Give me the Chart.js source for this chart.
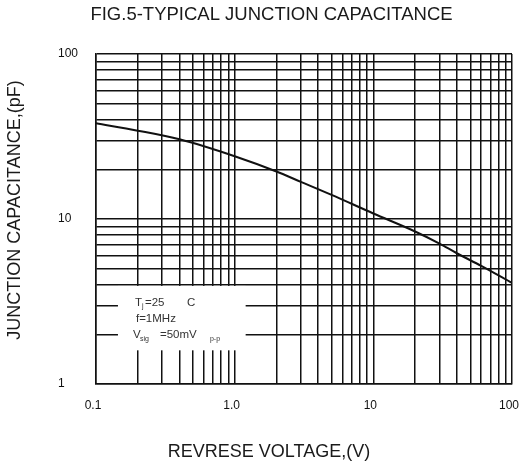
<!DOCTYPE html>
<html><head><meta charset="utf-8">
<script src="https://cdn.jsdelivr.net/npm/chart.js@4"></script>
<style>html,body{margin:0;padding:0;background:#fff}#wrap{width:519px;height:465px}</style>
</head><body><div id="wrap"><canvas id="c" width="519" height="465"></canvas></div>
<script>
const voltage = [0.1, 0.2, 0.4, 1, 2, 3, 5, 10, 20, 30, 40, 60, 100];
const capacitance = [38, 34.3, 30.4, 24, 19.4, 16.8, 14, 10.8, 8.4, 7.1, 6.2, 5.2, 4.1];

const xGridValues = [0.1,0.2,0.3,0.4,0.5,0.6,0.7,0.8,0.9,1,2,3,4,5,6,7,8,9,10,20,30,40,50,60,70,80,90,100];
const xLabelValues = [0.1, 1, 10, 100];
const xLabels = ['0.1', '1.0', '10', '100'];

const yGridValues = [1,2,3,4,5,6,7,8,9,10,20,30,40,50,60,70,80,90,100];
const yLabelValues = [1, 10, 100];
const yLabels = ['1', '10', '100'];

const noteBoxRange = { xFrom: 0.144, xTo: 1.2, yFrom: 3.93, yTo: 1.6 };

const FONT = "'Liberation Sans', Arial, Helvetica, sans-serif";
const INK = '#1a1a1a';

function lookup(values, labels, v) {
  const i = values.findIndex(a => Math.abs(a - v) / a < 1e-6);
  return i >= 0 ? labels[i] : '';
}

const noteBox = {
  id: 'noteBox',
  afterDatasetsDraw(chart) {
    const { ctx, scales: { x, y } } = chart;
    const l = x.getPixelForValue(noteBoxRange.xFrom);
    const r = x.getPixelForValue(noteBoxRange.xTo);
    const t = y.getPixelForValue(noteBoxRange.yFrom);
    const b = y.getPixelForValue(noteBoxRange.yTo);
    ctx.save();
    ctx.fillStyle = '#fff';
    ctx.fillRect(l, t, r - l, b - t);
    ctx.fillStyle = '#333';
    ctx.textBaseline = 'alphabetic';
    ctx.textAlign = 'left';
    const big = '11.5px ' + FONT, small = '7px ' + FONT;
    ctx.font = big; ctx.fillText('T', l + 17, t + 20);
    ctx.font = small; ctx.fillText('j', l + 24, t + 22);
    ctx.font = big; ctx.fillText('=25', l + 27, t + 20);
    ctx.fillText('C', l + 69, t + 20);
    ctx.fillText('f=1MHz', l + 18, t + 36);
    ctx.fillText('V', l + 15, t + 52);
    ctx.font = small; ctx.fillText('sig', l + 22, t + 55);
    ctx.font = big; ctx.fillText('=50mV', l + 42, t + 52);
    ctx.font = small; ctx.fillText('p-p', l + 92, t + 55);
    ctx.restore();
  }
};

// shift the titles so they sit where the reference puts them
const titleShift = {
  id: 'titleShift',
  afterLayout(chart) {
    const tb = chart.titleBlock;
    if (tb) { tb.left += 31; }
    const shifts = { x: [-35, 0], yTitle: [0, -9] };
    Object.keys(shifts).forEach(id => {
      const s = chart.scales[id];
      if (!s || s._shiftWrapped) return;
      const orig = s.drawTitle.bind(s);
      s.drawTitle = function () {
        const ctx = this.ctx;
        ctx.save();
        ctx.translate(shifts[id][0], shifts[id][1]);
        orig();
        ctx.restore();
      };
      s._shiftWrapped = true;
    });
  }
};

new Chart(document.getElementById('c'), {
  type: 'line',
  data: {
    datasets: [{
      data: voltage.map((v, i) => ({ x: v, y: capacitance[i] })),
      borderColor: '#111',
      borderWidth: 2,
      pointRadius: 0,
      cubicInterpolationMode: 'monotone',
      fill: false
    }]
  },
  options: {
    responsive: false,
    animation: false,
    devicePixelRatio: 1,
    layout: { padding: { left: 0, right: 7, top: 0, bottom: 0 } },
    plugins: {
      legend: { display: false },
      tooltip: { enabled: false },
      title: {
        display: true,
        text: 'FIG.5-TYPICAL JUNCTION CAPACITANCE',
        color: INK,
        font: { family: FONT, size: 18.5, weight: 'normal', lineHeight: 1.2 },
        padding: { top: 4, bottom: 27.8 }
      }
    },
    scales: {
      x: {
        type: 'logarithmic', min: 0.1, max: 100, position: 'bottom',
        afterBuildTicks: s => { s.ticks = xGridValues.map(v => ({ value: v })); },
        afterFit: s => { s.paddingLeft = 0; s.paddingRight = 0; s.height = 81; },
        ticks: {
          autoSkip: false, maxRotation: 0, minRotation: 0, padding: 14, labelOffset: -3,
          color: '#111', font: { family: FONT, size: 12 },
          callback: v => lookup(xLabelValues, xLabels, v)
        },
        grid: { color: '#111', lineWidth: 1.5, drawTicks: false },
        border: { color: '#111', width: 1.5 },
        title: {
          display: true, text: 'REVRESE VOLTAGE,(V)', color: INK,
          font: { family: FONT, size: 18, weight: 'normal' },
          padding: { top: 0, bottom: 2.5 }
        }
      },
      y: {
        type: 'logarithmic', min: 1, max: 100, position: 'left', weight: 0,
        afterBuildTicks: s => { s.ticks = yGridValues.map(v => ({ value: v })); },
        afterFit: s => { s.paddingTop = 0; s.paddingBottom = 0; s.width = 38; },
        ticks: {
          autoSkip: false, crossAlign: 'far',
          color: '#111', font: { family: FONT, size: 12 },
          callback: v => lookup(yLabelValues, yLabels, v)
        },
        grid: { color: '#111', lineWidth: 1.5, drawTicks: false },
        border: { color: '#111', width: 1.5 }
      },
      yTitle: {
        type: 'linear', position: 'left', weight: 10, display: true,
        afterFit: s => { s.paddingTop = 0; s.paddingBottom = 0; s.width = 58; },
        ticks: { display: false },
        grid: { display: false, drawTicks: false },
        border: { display: false },
        title: {
          display: true, text: 'JUNCTION CAPACITANCE,(pF)', color: INK,
          font: { family: FONT, size: 18, weight: 'normal' },
          padding: { top: 4, bottom: 0 }
        }
      }
    }
  },
  plugins: [noteBox, titleShift]
});
</script>
</body></html>
